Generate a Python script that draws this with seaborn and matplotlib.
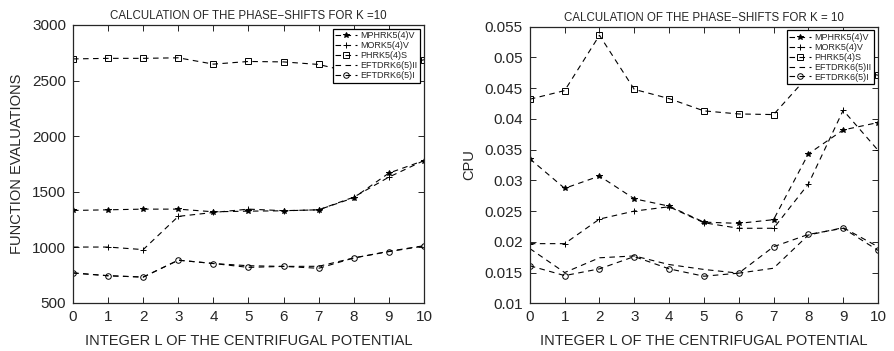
import numpy as np
import pandas as pd
import matplotlib
matplotlib.use("Agg")
import matplotlib.pyplot as plt
import seaborn as sns

# integer L of the centrifugal potential
L = list(range(11))

methods = ["MPHRK5(4)V", "MORK5(4)V", "PHRK5(4)S", "EFTDRK6(5)II", "EFTDRK6(5)I"]
markers = ["*", "+", "s", "", "o"]

# function evaluations (left panel)
fe_mphrk = [1332, 1338, 1344, 1344, 1320, 1326, 1329, 1338, 1446, 1668, 1781]
fe_mork = [1003, 1003, 980, 1279, 1314, 1344, 1330, 1338, 1452, 1632, 1781]
fe_phrk = [2695, 2700, 2700, 2705, 2648, 2672, 2668, 2645, 2570, 2600, 2688]
fe_eft2 = [770, 745, 733, 885, 855, 835, 829, 830, 905, 965, 1015]
fe_eft1 = [770, 745, 733, 885, 855, 820, 829, 812, 905, 962, 1012]

# CPU time (right panel)
cpu_mphrk = [0.0335, 0.0287, 0.0307, 0.0270, 0.0258, 0.0232, 0.0230, 0.0236, 0.0343, 0.0382, 0.0394]
cpu_mork = [0.0197, 0.0197, 0.0237, 0.0250, 0.0257, 0.0231, 0.0222, 0.0222, 0.0294, 0.0414, 0.0349]
cpu_phrk = [0.0432, 0.0446, 0.0536, 0.0448, 0.0433, 0.0413, 0.0408, 0.0407, 0.0470, 0.0485, 0.0471]
cpu_eft2 = [0.0189, 0.0150, 0.0174, 0.0177, 0.0163, 0.0155, 0.0149, 0.0157, 0.0211, 0.0223, 0.0192]
cpu_eft1 = [0.0161, 0.0145, 0.0156, 0.0176, 0.0156, 0.0144, 0.0149, 0.0192, 0.0212, 0.0222, 0.0186]

fe = [fe_mphrk, fe_mork, fe_phrk, fe_eft2, fe_eft1]
cpu = [cpu_mphrk, cpu_mork, cpu_phrk, cpu_eft2, cpu_eft1]

sns.set_style("ticks")
plt.rcParams["font.family"] = ["Liberation Sans", "DejaVu Sans"]
plt.rcParams["xtick.direction"] = "in"
plt.rcParams["ytick.direction"] = "in"

fig = plt.figure(figsize=(8.95, 3.51), dpi=100)
ax0 = fig.add_axes([0.0816, 0.1368, 0.3921, 0.792])
ax1 = fig.add_axes([0.592, 0.136, 0.389, 0.788])


def draw(ax, data, title, ylabel, yticks, ylabels, ylim):
    for name, mk, vals in zip(methods, markers, data):
        df = pd.DataFrame({"L": L, "y": vals})
        sns.lineplot(data=df, x="L", y="y", ax=ax, color="k", linestyle=(0, (5, 4)),
                     linewidth=0.8, marker=mk if mk else None,
                     markersize=5 if mk == "+" else 4,
                     markerfacecolor="none" if mk in ("s", "o") else "k",
                     markeredgecolor="k", markeredgewidth=0.7, label=name)
    ax.set_xlim(0, 10)
    ax.set_ylim(*ylim)
    ax.set_xticks(L)
    ax.set_xticklabels([str(v) for v in L], fontsize=11)
    ax.set_yticks(yticks)
    ax.set_yticklabels(ylabels, fontsize=11)
    ax.tick_params(top=True, right=True, length=4, width=0.7, pad=5)
    for s in ax.spines.values():
        s.set_visible(True)
        s.set_linewidth(0.9)
    ax.set_title(title, fontsize=8.3, pad=4)
    ax.set_xlabel("INTEGER L OF THE CENTRIFUGAL POTENTIAL", fontsize=10.5, labelpad=7)
    ax.set_ylabel(ylabel, fontsize=10.5, labelpad=6)
    leg = ax.legend(loc="upper right", fontsize=6.5, frameon=True, fancybox=False,
                    framealpha=1, edgecolor="k", handlelength=2.4, borderpad=0.3,
                    labelspacing=0.1, handletextpad=0.4, borderaxespad=0.4)
    leg.get_frame().set_linewidth(0.9)


draw(ax0, fe, "CALCULATION OF THE PHASE\u2212SHIFTS FOR K =10", "FUNCTION EVALUATIONS",
     [500, 1000, 1500, 2000, 2500, 3000], ["500", "1000", "1500", "2000", "2500", "3000"],
     (500, 3000))
draw(ax1, cpu, "CALCULATION OF THE PHASE\u2212SHIFTS FOR K = 10", "CPU",
     [0.01, 0.015, 0.02, 0.025, 0.03, 0.035, 0.04, 0.045, 0.05, 0.055],
     ["0.01", "0.015", "0.02", "0.025", "0.03", "0.035", "0.04", "0.045", "0.05", "0.055"],
     (0.01, 0.055))

fig.savefig("out.png", dpi=100)
